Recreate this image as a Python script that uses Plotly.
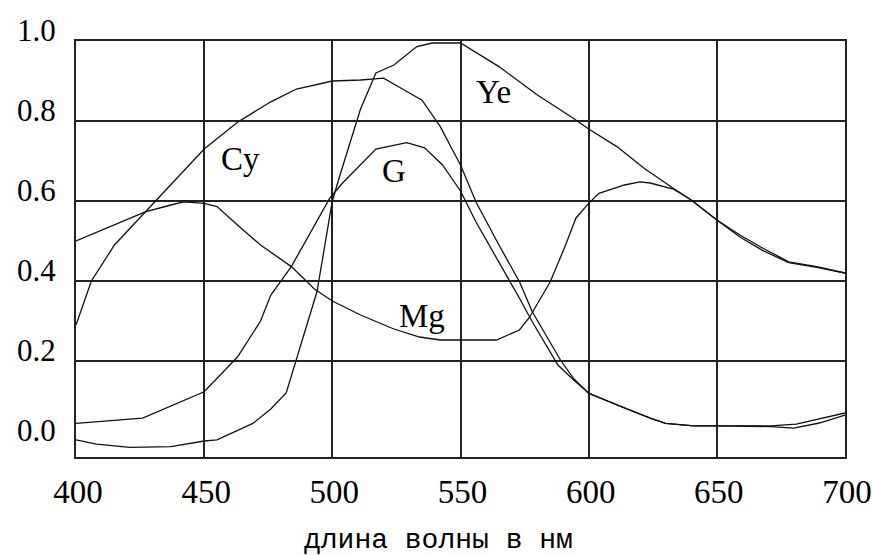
import plotly.graph_objects as go

# ---- data (wavelength in nm, relative response) ----
cy_nm = [400, 406, 415, 428, 432, 450, 463, 476, 486, 500, 511, 520, 526, 535, 542, 550,
         556, 565, 573, 578, 589, 594, 600, 611, 624, 630, 641, 650, 671, 681, 690, 700]
cy_val = [0.29, 0.40, 0.49, 0.58, 0.607, 0.73, 0.797, 0.848, 0.88, 0.90, 0.9025, 0.907, 0.885, 0.852, 0.787, 0.69,
          0.598, 0.49, 0.398, 0.323, 0.2025, 0.157, 0.119, 0.09, 0.057, 0.044, 0.038, 0.038, 0.038, 0.042, 0.055, 0.07]

g_nm = [400, 426, 450, 463, 472, 476, 484, 499, 504, 517, 529, 536, 543, 550,
        556, 565, 573, 578, 588, 594, 600, 611, 624, 630, 641, 650, 671, 680, 690, 700]
g_val = [0.044, 0.057, 0.123, 0.21, 0.30, 0.365, 0.436, 0.607, 0.645, 0.73, 0.746, 0.733, 0.69, 0.625,
         0.548, 0.448, 0.357, 0.298, 0.19, 0.153, 0.12, 0.09, 0.057, 0.044, 0.038, 0.038, 0.036, 0.032, 0.045, 0.065]

ye_nm = [400, 408, 421, 437, 450, 455, 469, 476, 482, 494, 500, 503, 511, 517, 524, 533, 539, 550,
         565, 580, 594, 600, 611, 622, 633, 640, 650, 659, 668, 678, 689, 700]
ye_val = [0.003, -0.008, -0.016, -0.014, 0.0, 0.003, 0.044, 0.08, 0.12, 0.373, 0.6, 0.665, 0.83, 0.92, 0.94, 0.986, 0.995, 0.995,
          0.936, 0.865, 0.807, 0.78, 0.736, 0.68, 0.632, 0.6025, 0.5525, 0.515, 0.482, 0.448, 0.436, 0.42]

mg_nm = [400, 413, 427, 437, 442, 450, 455, 463, 472, 484, 493, 500, 511, 524, 534, 542, 564,
         573, 577, 585, 591, 595, 600, 604, 614, 620, 624, 633, 640, 650, 659, 668, 678, 689, 700]
mg_val = [0.50, 0.536, 0.573, 0.59, 0.598, 0.594, 0.586, 0.54, 0.49, 0.436, 0.38, 0.35, 0.315, 0.28, 0.26, 0.2525, 0.2525,
          0.2775, 0.31, 0.398, 0.49, 0.557, 0.594, 0.619, 0.64, 0.648, 0.645, 0.63, 0.6025, 0.5525, 0.51, 0.476, 0.446, 0.434, 0.42]

series_names = ["Cy", "G", "Ye", "Mg"]
label_nm = [464, 524, 563, 535]
label_val = [0.705, 0.674, 0.873, 0.312]

x_ticks = [400, 450, 500, 550, 600, 650, 700]
y_ticks = [0.0, 0.2, 0.4, 0.6, 0.8, 1.0]
y_ticklabels = ["0.0", "0.2", "0.4", "0.6", "0.8", "1.0"]
x_title = "длина волны в нм"

serif = "Liberation Serif, Times New Roman, serif"
line_col = "#111111"

fig = go.Figure()
for name, xs, ys in zip(series_names, [cy_nm, g_nm, ye_nm, mg_nm], [cy_val, g_val, ye_val, mg_val]):
    fig.add_trace(go.Scatter(x=xs, y=ys, mode="lines", name=name,
                             line=dict(color=line_col, width=1.3), showlegend=False,
                             hoverinfo="x+y+name"))

for name, lx, ly in zip(series_names, label_nm, label_val):
    fig.add_annotation(x=lx, y=ly, xref="x", yref="y", text=name, showarrow=False,
                       font=dict(family=serif, size=33, color="#000"),
                       xanchor="center", yanchor="middle")

fig.add_annotation(x=0.472, y=-0.242, xref="paper", yref="paper", text=x_title,
                   showarrow=False, font=dict(family="Liberation Mono, monospace", size=28, color="#000"),
                   xanchor="center", yanchor="bottom")

fig.update_layout(
    width=872, height=555,
    margin=dict(l=76, r=27, t=41, b=98, autoexpand=False),
    paper_bgcolor="white", plot_bgcolor="white",
    font=dict(family=serif, color="#000"),
)
fig.update_xaxes(
    range=[400, 700], tickvals=x_ticks, ticktext=[str(v) for v in x_ticks],
    showgrid=True, gridcolor="#222", gridwidth=1.6,
    showline=True, linecolor="#222", linewidth=2, mirror=True,
    ticks="", tickfont=dict(family=serif, size=33, color="#000"),
    ticklabelstandoff=4, ticklabelshift=2, ticklabeloverflow="allow",
    zeroline=False, automargin=False,
)
fig.update_yaxes(
    range=[-0.04, 1.0], tickvals=y_ticks, ticktext=y_ticklabels,
    showgrid=False,
    minor=dict(tickvals=[0.2, 0.4, 0.6, 0.8], showgrid=True, gridcolor="#222", gridwidth=1.6, ticks=""),
    showline=True, linecolor="#222", linewidth=2, mirror=True,
    ticks="", tickfont=dict(family=serif, size=31, color="#000"),
    ticklabelstandoff=12, ticklabelshift=-11, ticklabeloverflow="allow",
    zeroline=False, automargin=False,
)

# remove the default page margin so the 872x555 figure fills the window exactly
fig.write_html("out.html", config={"displayModeBar": False},
               post_script="document.body.style.margin='0';document.body.style.overflow='hidden';")
